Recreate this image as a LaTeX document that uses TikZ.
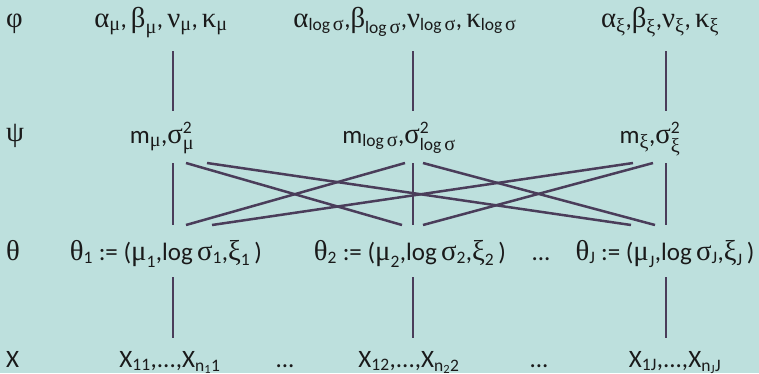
\documentclass[tikz,border=0pt]{standalone}
\usepackage{amsmath}
\usepackage{fontspec}
\setmainfont{Carlito}
\newfontfamily\grf[Scale=1.15]{Liberation Serif}
\newcommand\G[1]{\text{\grf #1}}
\newcommand\T[1]{\text{#1}}
\definecolor{bgc}{HTML}{BDE0DD}
\definecolor{lnc}{HTML}{4A3D5A}
\definecolor{txc}{HTML}{1A1A1A}
\begin{document}
\begin{tikzpicture}[x=1pt,y=-1pt,
  lbl/.style={anchor=base,inner sep=0pt,text=txc,font=\fontsize{25}{30}\selectfont},
  rowlbl/.style={anchor=base west,inner sep=0pt,text=txc,font=\fontsize{25}{30}\selectfont},
  edge/.style={draw=lnc,line width=2.5pt}]
\fill[bgc] (0,0) rectangle (759,373);
\useasboundingbox (0,0) rectangle (759,373);
% row labels
\node[rowlbl] (lphi) at (6,27) {\G{φ}};
\node[rowlbl] (lpsi) at (6,141) {\G{ψ}};
\node[rowlbl] (lth) at (6,260) {\G{θ}};
\node[rowlbl] (lx) at (6,367) {X};
% phi row
\node[lbl] (f1) at (161,27) {$\G{α}_{\G{μ}}\T{,}\,\G{β}_{\G{μ}}\T{,}\,\G{ν}_{\G{μ}}\T{,}\,\G{κ}_{\G{μ}}$};
\node[lbl] (f2) at (405,27) {$\G{α}_{\T{log\,}\G{σ}}\T{,}\G{β}_{\T{log\,}\G{σ}}\T{,}\G{ν}_{\T{log\,}\G{σ}}\T{,}\,\G{κ}_{\T{log\,}\G{σ}}$};
\node[lbl] (f3) at (660,27) {$\G{α}_{\G{ξ}}\T{,}\G{β}_{\G{ξ}}\T{,}\G{ν}_{\G{ξ}}\T{,}\,\G{κ}_{\G{ξ}}$};
% psi row
\node[lbl] (p1) at (162,143) {$\T{m}_{\G{μ}}\T{,}\G{σ}^{\T{2}}_{\G{μ}}$};
\node[lbl] (p2) at (399,143) {$\T{m}_{\T{log\,}\G{σ}}\T{,}\G{σ}^{\T{2}}_{\T{log\,}\G{σ}}$};
\node[lbl] (p3) at (650,143) {$\T{m}_{\G{ξ}}\T{,}\G{σ}^{\T{2}}_{\G{ξ}}$};
% theta row
\node[lbl] (t1) at (166,260) {$\G{θ}_{\T{1}}\ \T{:=}\ \T{(}\G{μ}_{\T{1}}\T{,log\,}\G{σ}_{\T{1}}\T{,}\G{ξ}_{\T{1}}\,\T{)}$};
\node[lbl] (t2) at (410,260) {$\G{θ}_{\T{2}}\ \T{:=}\ \T{(}\G{μ}_{\T{2}}\T{,log\,}\G{σ}_{\T{2}}\T{,}\G{ξ}_{\T{2}}\,\T{)}$};
\node[lbl] (tdots) at (541,260) {...};
\node[lbl] (t3) at (665,260) {$\G{θ}_{\T{J}}\ \T{:=}\ \T{(}\G{μ}_{\T{J}}\T{,log\,}\G{σ}_{\T{J}}\T{,}\G{ξ}_{\T{J}}\,\T{)}$};
% X row
\node[lbl] (x1) at (170,367) {$\T{X}_{\T{11}}\T{,...,X}_{\T{n}_{\T{1}}\T{1}}$};
\node[lbl] (xd1) at (285,367) {...};
\node[lbl] (x2) at (409,367) {$\T{X}_{\T{12}}\T{,...,X}_{\T{n}_{\T{2}}\T{2}}$};
\node[lbl] (xd2) at (539,367) {...};
\node[lbl] (x3) at (675,367) {$\T{X}_{\T{1J}}\T{,...,X}_{\T{n}_{\T{J}}\T{J}}$};
% connector end coordinates
\foreach \c/\xx in {1/173,2/413,3/666}{
  \coordinate (fb\c) at (\xx,51);
  \coordinate (pt\c) at (\xx,111);
  \coordinate (pb\c) at (\xx,163);
  \coordinate (tt\c) at (\xx,225);
  \coordinate (tb\c) at (\xx,277);
  \coordinate (xt\c) at (\xx,338);
  \draw[edge] (fb\c) -- (pt\c);
  \draw[edge] (pb\c) -- (tt\c);
  \draw[edge] (tb\c) -- (xt\c);
}
\coordinate (p1a) at (186,163); \coordinate (p1b) at (207,163);
\coordinate (p2a) at (405,163); \coordinate (p2b) at (423,163);
\coordinate (p3a) at (633,163); \coordinate (p3b) at (653,163);
\coordinate (t1a) at (186,225); \coordinate (t1b) at (212,225);
\coordinate (t2a) at (402,225); \coordinate (t2b) at (423,225);
\coordinate (t3a) at (631,225); \coordinate (t3b) at (655,225);
\draw[edge] (p1a) -- (t2a);
\draw[edge] (p1b) -- (t3a);
\draw[edge] (p2a) -- (t1a);
\draw[edge] (p2b) -- (t3b);
\draw[edge] (p3a) -- (t1b);
\draw[edge] (p3b) -- (t2b);
\end{tikzpicture}
\end{document}
